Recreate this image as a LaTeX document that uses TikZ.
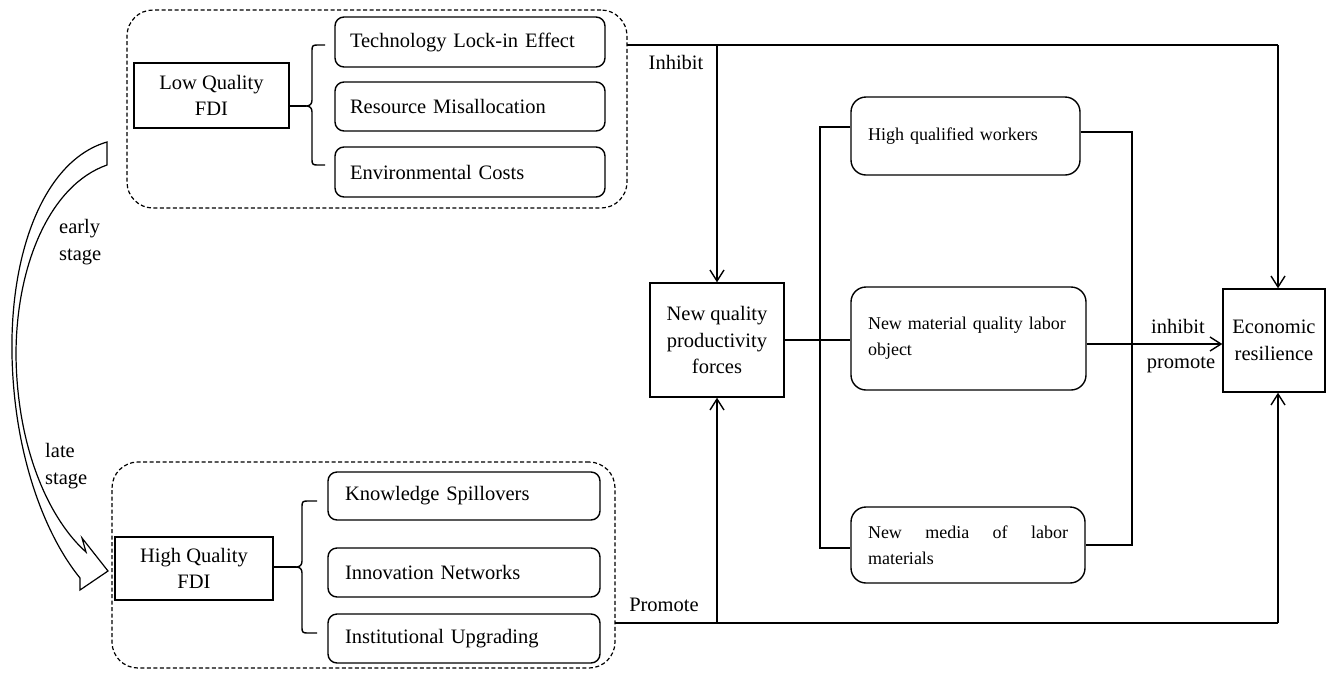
\documentclass[tikz,border=0pt]{standalone}
\usepackage{fontspec}
\setmainfont{Liberation Serif}
\usetikzlibrary{arrows.meta,calc}
\begin{document}
\begin{tikzpicture}[x=1pt,y=-1pt,
 font=\fontsize{20.5}{26.5}\selectfont,
 lw/.style={line width=1.4pt},
 sqbox/.style={draw,lw,inner sep=0pt,align=center},
 itembox/.style={draw,lw,rounded corners=9pt,inner ysep=0pt,align=left},
 subbox/.style={draw,lw,rounded corners=15pt,inner ysep=0pt,inner xsep=17pt,align=left,font=\fontsize{18}{26}\selectfont},
 grp/.style={draw,line width=1.2pt,dash pattern=on 4pt off 2.5pt,rounded corners=26pt,inner sep=0pt},
 conn/.style={lw},
 arr/.style={lw,-{Straight Barb[length=11pt,width=14pt,line width=1.4pt]}},
 lbl/.style={inner sep=0pt},
]
\useasboundingbox (0,0) rectangle (1328,673);

% groups
\node[grp,minimum width=500pt,minimum height=198pt] (topgrp) at (377,109) {};
\node[grp,minimum width=503pt,minimum height=206pt] (botgrp) at (363.5,565) {};

% FDI boxes
\node[sqbox,minimum width=155pt,minimum height=65pt] (lq) at (211.5,95.5) {Low Quality\\FDI};
\node[sqbox,minimum width=158pt,minimum height=63pt] (hq) at (194,568.5) {High Quality\\FDI};

% items
\node[itembox,text width=240pt,inner xsep=15pt,minimum height=50pt] (tech) at (470,42) {Technology Lock-in Effect};
\node[itembox,text width=240pt,inner xsep=15pt,minimum height=49pt] (misal) at (470,106.5) {Resource Misallocation};
\node[itembox,text width=240pt,inner xsep=15pt,minimum height=50pt] (env) at (470,172) {Environmental Costs};
\node[itembox,text width=238pt,inner xsep=17pt,minimum height=48pt] (know) at (464,496) {Knowledge Spillovers};
\node[itembox,text width=238pt,inner xsep=17pt,minimum height=49pt] (innov) at (464,572.5) {Innovation Networks};
\node[itembox,text width=238pt,inner xsep=17pt,minimum height=49pt] (inst) at (464,638.5) {Institutional Upgrading};

% main boxes
\node[sqbox,minimum width=134pt,minimum height=114pt] (nq) at (717,340) {New quality\\productivity\\forces};
\node[sqbox,minimum width=102pt,minimum height=103pt] (er) at (1274,340.5) {Economic\\resilience};

% sub boxes
\node[subbox,text width=195pt,minimum height=78pt] (hqw) at (965.5,136) {High qualified workers};
\node[subbox,text width=201pt,minimum height=103pt] (nmat) at (968.5,338.5) {New material quality labor\\object};
\node[subbox,text width=200pt,minimum height=76pt] (nmed) at (968,545) {New\hfill media\hfill of\hfill labor\\materials};

% labels
\node[lbl] (inh) at (676,62) {Inhibit};
\node[lbl] (prom) at (664,605) {Promote};
\node[lbl] (inh2) at (1178,326) {inhibit};
\node[lbl] (prom2) at (1181,365) {promote};
\node[lbl,align=left,anchor=west] (early) at (59,242) {early\\stage};
\node[lbl,align=left,anchor=west] (late) at (45,466) {late\\stage};

% top connector
\coordinate (topout) at (627,45);
\coordinate (tcorner) at (1278,45);
\draw[conn] (topout) -- (tcorner);
\draw[arr] (tcorner) -- (tcorner |- er.north);
\draw[arr] (nq.north |- topout) -- (nq.north);

% bottom connector
\coordinate (botout) at (615,623);
\coordinate (bcorner) at (1278,623);
\draw[conn] (botout) -- (bcorner);
\draw[arr] (bcorner) -- (bcorner |- er.south);
\draw[arr] (nq.south |- botout) -- (nq.south);

% middle connectors
\draw[conn] (nq.east) -- (nq.east -| nmat.west);
\coordinate (lv1) at (820,127);
\coordinate (lv2) at (820,548);
\draw[conn] (lv1 -| hqw.west) -- (lv1) -- (lv2) -- (lv2 -| nmed.west);
\coordinate (rv1) at (1132,132);
\coordinate (rv2) at (1132,545);
\draw[conn] (rv1 -| hqw.east) -- (rv1) -- (rv2) -- (rv2 -| nmed.east);
\coordinate (mid) at (1100,344);
\draw[arr] (mid -| nmat.east) -- (mid -| er.west);

% braces
\coordinate (tb) at (306,106);
\draw[conn] (tb -| lq.east) -- (tb);
\draw[conn] (325,45) -- (317,45) .. controls (313,45) and (312,46) .. (312,50) -- (312,100) .. controls (312,104) and (310,106) .. (tb) .. controls (310,106) and (312,108) .. (312,112) -- (312,160) .. controls (312,164) and (313,165) .. (317,165) -- (325,165);
\coordinate (bb) at (296,567);
\draw[conn] (bb -| hq.east) -- (bb);
\draw[conn] (317,501) -- (307,501) .. controls (303,501) and (302,502) .. (302,506) -- (302,561) .. controls (302,565) and (300,567) .. (bb) .. controls (300,567) and (302,569) .. (302,573) -- (302,628) .. controls (302,632) and (303,633) .. (307,633) -- (317,633);

% hollow curved arrow
\draw[line width=1.2pt,fill=white,line join=miter] (107,142) .. controls (45,160) and (10,250) .. (12,355) .. controls (14,455) and (45,535) .. (80,578) -- (80,590) -- (108,571) -- (82,538) -- (86,552) .. controls (50,520) and (17,450) .. (16,355) .. controls (16,265) and (50,185) .. (107,165) -- cycle;
\end{tikzpicture}
\end{document}
